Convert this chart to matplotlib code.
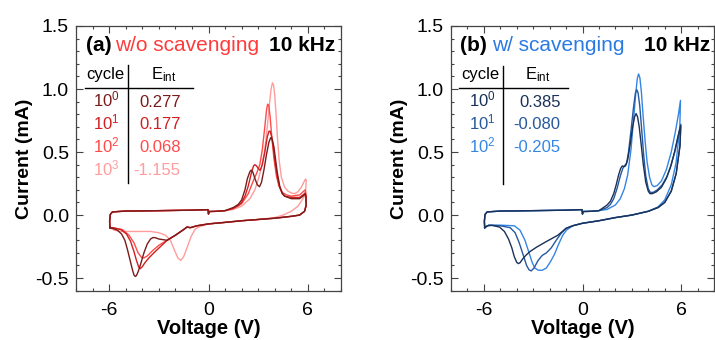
import matplotlib
matplotlib.use("Agg")
import matplotlib.pyplot as plt
from matplotlib.ticker import MultipleLocator

plt.rcParams['font.family'] = ['Liberation Sans', 'DejaVu Sans']
plt.rcParams['mathtext.fontset'] = 'custom'
plt.rcParams['mathtext.rm'] = 'Liberation Sans'
plt.rcParams['mathtext.it'] = 'Liberation Sans:italic'
plt.rcParams['mathtext.bf'] = 'Liberation Sans:bold'

# ---------------- data ----------------
# shared flat upper branch (-6 V .. 1 V) with the notch at 0 V
base_up_V = [-5.95, -5.97, -5.93, -5.8, -5.0, -4.0, -3.0, -2.0, -1.0, -0.3, -0.03, 0.0, 0.03, 0.5, 1.0]
base_up_I = [-0.10, -0.05, 0.005, 0.025, 0.032, 0.033, 0.035, 0.037, 0.039, 0.042, 0.043, 0.008, 0.028, 0.03, 0.035]

# ----- panel (a) w/o scavenging -----
a0_up_V = [1.5, 1.8, 2.0, 2.2, 2.35, 2.5, 2.58, 2.68, 2.8, 2.95, 3.08, 3.2, 3.35, 3.5, 3.65, 3.76, 3.85, 3.95, 4.05, 4.15, 4.3, 4.45, 4.6, 5.0, 5.5, 5.75, 5.83, 5.88, 5.9]
a0_up_I = [0.06, 0.085, 0.12, 0.20, 0.29, 0.345, 0.357, 0.34, 0.29, 0.24, 0.225, 0.26, 0.36, 0.48, 0.58, 0.615, 0.60, 0.54, 0.44, 0.34, 0.23, 0.175, 0.15, 0.13, 0.13, 0.155, 0.168, 0.15, 0.08]
a1_up_V = [1.5, 1.8, 2.0, 2.2, 2.4, 2.6, 2.72, 2.8, 2.9, 3.0, 3.12, 3.25, 3.4, 3.55, 3.65, 3.72, 3.82, 3.92, 4.02, 4.15, 4.3, 4.45, 4.6, 5.0, 5.5, 5.75, 5.84, 5.88, 5.9]
a1_up_I = [0.055, 0.075, 0.10, 0.15, 0.23, 0.34, 0.39, 0.40, 0.39, 0.37, 0.355, 0.40, 0.50, 0.62, 0.665, 0.665, 0.62, 0.53, 0.42, 0.31, 0.22, 0.17, 0.15, 0.14, 0.14, 0.165, 0.175, 0.15, 0.08]
a2_up_V = [1.5, 2.0, 2.4, 2.7, 2.9, 3.1, 3.25, 3.4, 3.5, 3.57, 3.64, 3.72, 3.82, 3.95, 4.1, 4.25, 4.45, 4.7, 5.0, 5.5, 5.75, 5.85, 5.89, 5.9]
a2_up_I = [0.05, 0.09, 0.17, 0.27, 0.33, 0.40, 0.52, 0.70, 0.83, 0.88, 0.87, 0.78, 0.62, 0.45, 0.31, 0.23, 0.18, 0.16, 0.15, 0.16, 0.19, 0.20, 0.16, 0.08]
a3_up_V = [1.5, 2.0, 2.5, 2.8, 3.0, 3.2, 3.4, 3.55, 3.68, 3.78, 3.86, 3.93, 4.0, 4.08, 4.17, 4.27, 4.4, 4.6, 4.8, 5.0, 5.2, 5.4, 5.6, 5.75, 5.85, 5.9, 5.88, 5.8, 5.4, 5.0, 4.5]
a3_up_I = [0.045, 0.07, 0.13, 0.20, 0.28, 0.38, 0.52, 0.70, 0.88, 1.00, 1.05, 1.03, 0.95, 0.80, 0.60, 0.43, 0.30, 0.22, 0.19, 0.175, 0.17, 0.185, 0.22, 0.26, 0.285, 0.28, 0.22, 0.15, 0.07, 0.03, 0.0]

a_ret_V = [5.8, 5.5, 5.0, 4.0, 3.0, 2.0, 1.0, 0.0, -0.7, -1.1, -1.3, -1.5, -2.0, -2.5]
a_ret_I = [0.03, 0.0, -0.01, -0.025, -0.035, -0.045, -0.058, -0.07, -0.085, -0.10, -0.095, -0.115, -0.16, -0.20]

a0_lo_V = [-3.0, -3.2, -3.35, -3.5, -3.7, -3.9, -4.1, -4.25, -4.35, -4.42, -4.5, -4.6, -4.75, -4.9, -5.05, -5.25, -5.5, -5.8, -5.95]
a0_lo_I = [-0.19, -0.18, -0.178, -0.19, -0.23, -0.30, -0.39, -0.45, -0.48, -0.487, -0.475, -0.43, -0.35, -0.27, -0.20, -0.15, -0.12, -0.105, -0.10]
a1_lo_V = [-2.9, -3.3, -3.6, -3.85, -4.0, -4.12, -4.22, -4.35, -4.5, -4.7, -4.95, -5.3, -5.8, -5.95]
a1_lo_I = [-0.25, -0.30, -0.34, -0.38, -0.41, -0.425, -0.41, -0.36, -0.29, -0.21, -0.15, -0.115, -0.10, -0.10]
a2_lo_V = [-3.0, -3.4, -3.7, -3.9, -4.05, -4.25, -4.5, -4.8, -5.2, -5.8, -5.95]
a2_lo_I = [-0.24, -0.285, -0.325, -0.34, -0.335, -0.30, -0.22, -0.16, -0.115, -0.10, -0.10]
a3_lo_V = [4.0, 3.0, 2.0, 1.0, 0.0, -0.5, -0.8, -1.05, -1.3, -1.5, -1.68, -1.85, -2.05, -2.3, -2.6, -3.0, -3.5, -4.5, -5.3, -5.7, -5.95]
a3_lo_I = [-0.02, -0.035, -0.045, -0.058, -0.07, -0.09, -0.11, -0.17, -0.26, -0.33, -0.36, -0.34, -0.28, -0.20, -0.16, -0.14, -0.13, -0.13, -0.13, -0.12, -0.10]

# ----- panel (b) w/ scavenging -----
b0_up_V = [1.5, 1.7, 1.9, 2.05, 2.2, 2.32, 2.42, 2.52, 2.62, 2.75, 2.9, 3.05, 3.17, 3.26, 3.35, 3.45, 3.57, 3.7, 3.85, 4.0, 4.1, 4.25, 4.5, 4.8, 5.1, 5.35, 5.6, 5.8, 5.98]
b0_up_I = [0.08, 0.11, 0.17, 0.24, 0.32, 0.37, 0.39, 0.385, 0.39, 0.44, 0.56, 0.70, 0.78, 0.805, 0.78, 0.70, 0.56, 0.40, 0.26, 0.19, 0.17, 0.17, 0.185, 0.22, 0.29, 0.38, 0.50, 0.62, 0.71]
b1_up_V = [1.5, 1.7, 1.9, 2.1, 2.3, 2.45, 2.58, 2.68, 2.8, 2.95, 3.1, 3.22, 3.3, 3.38, 3.48, 3.6, 3.72, 3.85, 4.0, 4.12, 4.3, 4.55, 4.85, 5.15, 5.4, 5.65, 5.85, 5.98]
b1_up_I = [0.06, 0.085, 0.13, 0.21, 0.31, 0.37, 0.395, 0.41, 0.50, 0.67, 0.85, 0.97, 0.995, 0.97, 0.87, 0.68, 0.48, 0.31, 0.21, 0.18, 0.18, 0.20, 0.24, 0.31, 0.40, 0.52, 0.64, 0.72]
b2_up_V = [1.5, 2.0, 2.3, 2.55, 2.75, 2.95, 3.1, 3.23, 3.33, 3.41, 3.49, 3.58, 3.68, 3.8, 3.93, 4.08, 4.22, 4.35, 4.55, 4.8, 5.1, 5.4, 5.65, 5.85, 5.96]
b2_up_I = [0.045, 0.08, 0.13, 0.21, 0.32, 0.52, 0.75, 0.95, 1.08, 1.12, 1.09, 0.98, 0.80, 0.60, 0.42, 0.30, 0.24, 0.225, 0.235, 0.27, 0.36, 0.50, 0.66, 0.81, 0.91]

b0_ret_V = [5.93, 5.7, 5.4, 5.0, 4.6, 4.0, 3.0, 2.0, 1.0, 0.0, -0.6, -1.0]
b0_ret_I = [0.55, 0.33, 0.19, 0.10, 0.06, 0.03, 0.0, -0.02, -0.045, -0.065, -0.085, -0.105]
b2_ret_V = [5.92, 5.7, 5.4, 5.0, 4.6, 4.0, 3.0, 2.0, 1.0, 0.0, -0.6]
b2_ret_I = [0.70, 0.42, 0.24, 0.12, 0.065, 0.03, 0.0, -0.02, -0.045, -0.065, -0.085]

b0_lo_V = [-1.5, -2.2, -2.8, -3.2, -3.45, -3.65, -3.8, -3.9, -4.0, -4.15, -4.3, -4.5, -4.75, -5.05, -5.5, -5.8, -5.95]
b0_lo_I = [-0.16, -0.21, -0.255, -0.29, -0.32, -0.35, -0.378, -0.385, -0.375, -0.33, -0.26, -0.19, -0.13, -0.095, -0.082, -0.085, -0.10]
b1_lo_V = [-1.3, -1.6, -1.9, -2.2, -2.45, -2.7, -2.95, -3.12, -3.25, -3.4, -3.6, -3.85, -4.1, -4.4, -5.0, -5.7, -5.95]
b1_lo_I = [-0.145, -0.20, -0.26, -0.30, -0.32, -0.36, -0.42, -0.443, -0.435, -0.40, -0.32, -0.22, -0.14, -0.10, -0.085, -0.08, -0.10]
b2_lo_V = [-0.98, -1.2, -1.45, -1.7, -1.95, -2.2, -2.45, -2.7, -2.9, -3.05, -3.25, -3.5, -3.8, -4.15, -5.0, -5.7, -5.95]
b2_lo_I = [-0.12, -0.16, -0.23, -0.31, -0.37, -0.42, -0.438, -0.437, -0.42, -0.38, -0.30, -0.20, -0.12, -0.085, -0.08, -0.08, -0.10]

a_colors = ['#7a1c1c', '#d0201f', '#ff4a4a', '#ff9c9c']
b_colors = ['#1b3158', '#25589f', '#3486e4']

a_cycles = ['10$^0$', '10$^1$', '10$^2$', '10$^3$']
a_eint = ['0.277', '0.177', '0.068', '-1.155']
b_cycles = ['10$^0$', '10$^1$', '10$^2$']
b_eint = ['0.385', '-0.080', '-0.205']

a_title = 'w/o scavenging'
b_title = 'w/ scavenging'
freq = '10 kHz'

# ---------------- figure ----------------
fig = plt.figure(figsize=(7.15, 3.4), dpi=100)
W, H = 715.0, 340.0
bot = 1 - 290.7 / H
hgt = 264.7 / H
axL = fig.add_axes([76 / W, bot, 265 / W, hgt])
axR = fig.add_axes([451 / W, bot, 263 / W, hgt])


def loop(up_V, up_I, ret_V, ret_I, lo_V, lo_I):
    V = base_up_V + up_V + ret_V + lo_V
    I = base_up_I + up_I + ret_I + lo_I
    return V, I


lw = 1.0
# panel a: lightest first, darkest last
va3, ia3 = loop(a3_up_V, a3_up_I, [], [], a3_lo_V, a3_lo_I)
axL.plot(va3, ia3, color=a_colors[3], lw=lw)
va2, ia2 = loop(a2_up_V, a2_up_I, a_ret_V, a_ret_I, a2_lo_V, a2_lo_I)
axL.plot(va2, ia2, color=a_colors[2], lw=lw)
va1, ia1 = loop(a1_up_V, a1_up_I, a_ret_V, a_ret_I, a1_lo_V, a1_lo_I)
axL.plot(va1, ia1, color=a_colors[1], lw=lw)
va0, ia0 = loop(a0_up_V, a0_up_I, a_ret_V, a_ret_I, a0_lo_V, a0_lo_I)
axL.plot(va0, ia0, color=a_colors[0], lw=lw)

vb2, ib2 = loop(b2_up_V, b2_up_I, b2_ret_V, b2_ret_I, b2_lo_V, b2_lo_I)
axR.plot(vb2, ib2, color=b_colors[2], lw=lw)
vb1, ib1 = loop(b1_up_V, b1_up_I, b0_ret_V, b0_ret_I, b1_lo_V, b1_lo_I)
axR.plot(vb1, ib1, color=b_colors[1], lw=lw)
vb0, ib0 = loop(b0_up_V, b0_up_I, b0_ret_V, b0_ret_I, b0_lo_V, b0_lo_I)
axR.plot(vb0, ib0, color=b_colors[0], lw=lw)

for ax in (axL, axR):
    ax.set_xlim(-8, 8)
    ax.set_ylim(-0.6, 1.5)
    ax.xaxis.set_major_locator(MultipleLocator(6))
    ax.xaxis.set_minor_locator(MultipleLocator(1))
    ax.yaxis.set_major_locator(MultipleLocator(0.5))
    ax.yaxis.set_minor_locator(MultipleLocator(0.1))
    ax.set_yticks([-0.5, 0.0, 0.5, 1.0, 1.5])
    ax.set_yticklabels(['-0.5', '0.0', '0.5', '1.0', '1.5'])
    ax.set_xticks([-6, 0, 6])
    ax.set_xticklabels(['-6', '0', '6'])
    ax.tick_params(which='both', direction='in', top=True, right=True,
                   color='#444444', width=0.8)
    ax.tick_params(which='major', length=5, labelsize=14, pad=5)
    ax.tick_params(axis='x', which='major', pad=8)
    ax.tick_params(which='minor', length=2.5)
    for s in ax.spines.values():
        s.set_color('#444444')
        s.set_linewidth(0.9)
    ax.set_xlabel('Voltage (V)', fontsize=14.5, fontweight='bold', labelpad=0)
    ax.set_ylabel('Current (mA)', fontsize=14, fontweight='bold', labelpad=2)


def header(ax, x_lab, lab, x_title, title, tcolor, x_freq):
    ax.text(x_lab, 0.907, lab, transform=ax.transAxes, fontsize=15,
            fontweight='bold', va='baseline', ha='left')
    ax.text(x_title, 0.907, title, transform=ax.transAxes, fontsize=15,
            color=tcolor, va='baseline', ha='left')
    ax.text(x_freq, 0.907, freq, transform=ax.transAxes, fontsize=15,
            fontweight='bold', va='baseline', ha='right')


header(axL, 0.036, '(a)', 0.147, a_title, '#ff3b3b', 0.978)
header(axR, 0.034, '(b)', 0.157, b_title, '#2a7ae2', 0.985)


def table(ax, x_cyc_c, x_e_c, x_line, y_top, y_bot, h_x0, h_x1, x_num, x_val,
          cycles, vals, colors):
    fs = 12
    ax.text(x_cyc_c, 0.799, 'cycle', transform=ax.transAxes, fontsize=fs,
            ha='center', va='baseline')
    ax.text(x_e_c, 0.799, r'E$_{\mathrm{int}}$', transform=ax.transAxes, fontsize=fs,
            ha='center', va='baseline')
    ax.plot([h_x0, h_x1], [0.766, 0.766], transform=ax.transAxes, color='black',
            lw=1.0, clip_on=False)
    ax.plot([x_line, x_line], [y_top, y_bot], transform=ax.transAxes, color='black',
            lw=1.0, clip_on=False)
    for k, (c, v, col) in enumerate(zip(cycles, vals, colors)):
        y = 0.695 - 0.086 * k
        ax.text(x_num, y, c, transform=ax.transAxes, fontsize=fs, color=col,
                ha='left', va='baseline')
        ax.text(x_val, y, v, transform=ax.transAxes, fontsize=fs, color=col,
                ha='right', va='baseline')


table(axL, 0.111, 0.33, 0.197, 0.853, 0.406, 0.034, 0.443, 0.065, 0.395,
      a_cycles, a_eint, a_colors)
table(axR, 0.112, 0.329, 0.199, 0.847, 0.403, 0.032, 0.446, 0.07, 0.416,
      b_cycles, b_eint, b_colors)

fig.savefig('out.png', dpi=100)
